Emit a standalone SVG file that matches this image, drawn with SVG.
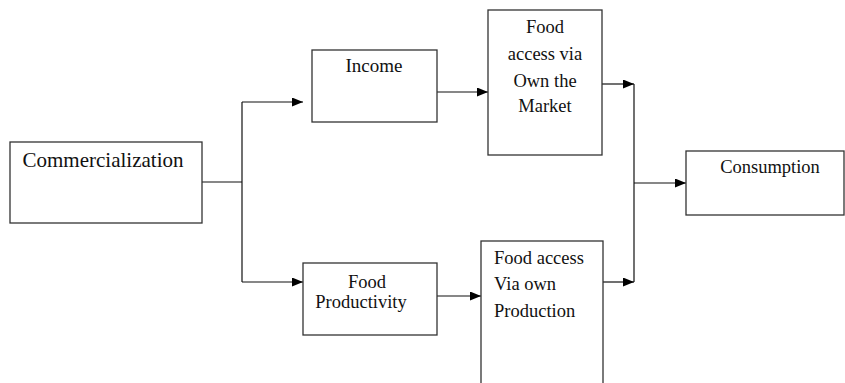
<svg xmlns="http://www.w3.org/2000/svg" width="845" height="383" viewBox="0 0 845 383">
<style>
.box{fill:#fff;stroke:#333;stroke-width:1.3}
.t{font-family:"Liberation Serif","DejaVu Serif",serif;font-size:18.5px;fill:#111}
.big{font-size:21px}
.mid{font-size:19px}
.c{fill:none;stroke:#111;stroke-width:1.2}
</style>
<defs>
<marker id="ah" viewBox="0 0 11 9" refX="11" refY="4.5" markerWidth="11" markerHeight="9" markerUnits="userSpaceOnUse" orient="auto">
<path d="M0,0 L11,4.5 L0,9 Z" fill="#000"/>
</marker>
</defs>
<rect width="845" height="383" fill="#fff"/>
<g id="connectors">
<path class="c" d="M202,182 H242"/>
<path class="c" d="M242,102 V282"/>
<path class="c" d="M242,102 H303" marker-end="url(#ah)"/>
<path class="c" d="M242,282 H303" marker-end="url(#ah)"/>
<path class="c" d="M437,92 H488" marker-end="url(#ah)"/>
<path class="c" d="M437,296 H481" marker-end="url(#ah)"/>
<path class="c" d="M602,84 H634" marker-end="url(#ah)"/>
<path class="c" d="M603,282 H634" marker-end="url(#ah)"/>
<path class="c" d="M634,84 V282"/>
<path class="c" d="M634,183 H686" marker-end="url(#ah)"/>
</g>
<g id="commercialization">
<rect class="box" x="10" y="142" width="192" height="81"/>
<text class="t big" x="103" y="167" text-anchor="middle">Commercialization</text>
</g>
<g id="income">
<rect class="box" x="312" y="50" width="125" height="72"/>
<text class="t mid" x="374" y="72" text-anchor="middle">Income</text>
</g>
<g id="food-market">
<rect class="box" x="488" y="10" width="114" height="145"/>
<text class="t" x="545" y="33" text-anchor="middle">Food</text>
<text class="t" x="545" y="60" text-anchor="middle">access via</text>
<text class="t" x="545" y="87" text-anchor="middle">Own the</text>
<text class="t" x="545" y="112" text-anchor="middle">Market</text>
</g>
<g id="food-productivity">
<rect class="box" x="303" y="263" width="134" height="72"/>
<text class="t" x="367" y="288" text-anchor="middle">Food</text>
<text class="t" x="361" y="308" text-anchor="middle">Productivity</text>
</g>
<g id="food-production">
<rect class="box" x="481" y="241" width="122" height="150"/>
<text class="t" x="494" y="264">Food access</text>
<text class="t" x="494" y="290">Via own</text>
<text class="t" x="494" y="317">Production</text>
</g>
<g id="consumption">
<rect class="box" x="686" y="151" width="158" height="64"/>
<text class="t" x="770" y="173" text-anchor="middle">Consumption</text>
</g>
</svg>
